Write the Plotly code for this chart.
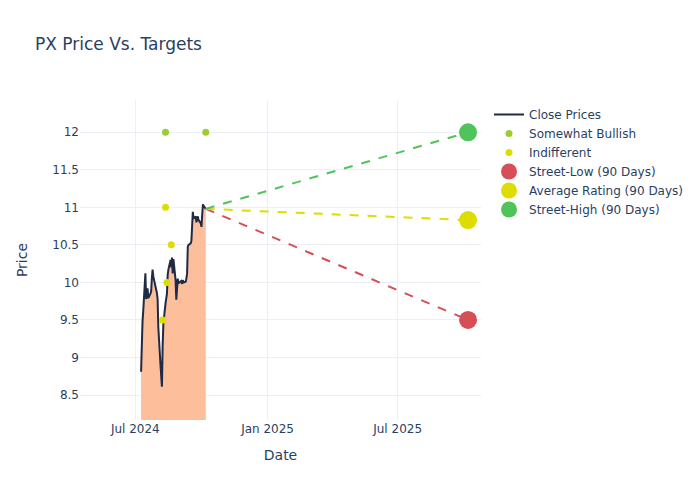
import pandas as pd
import plotly.graph_objects as go

# ---- data ----
price_dates = [
    "2024-07-09", "2024-07-10", "2024-07-11", "2024-07-12", "2024-07-15", "2024-07-16",
    "2024-07-17", "2024-07-18", "2024-07-19", "2024-07-22", "2024-07-23", "2024-07-24",
    "2024-07-25", "2024-07-26", "2024-07-29", "2024-07-30", "2024-07-31",
    "2024-08-01", "2024-08-02", "2024-08-05", "2024-08-06", "2024-08-07", "2024-08-08",
    "2024-08-09", "2024-08-12", "2024-08-13", "2024-08-14", "2024-08-15", "2024-08-16",
    "2024-08-19", "2024-08-20", "2024-08-21", "2024-08-22", "2024-08-23", "2024-08-26",
    "2024-08-27", "2024-08-28", "2024-08-29", "2024-08-30",
    "2024-09-03", "2024-09-04", "2024-09-05", "2024-09-06", "2024-09-09", "2024-09-10",
    "2024-09-11", "2024-09-12", "2024-09-13", "2024-09-16", "2024-09-17", "2024-09-18",
    "2024-09-19", "2024-09-20", "2024-09-23", "2024-09-24", "2024-09-25", "2024-09-26",
    "2024-09-27", "2024-09-30",
    "2024-10-01", "2024-10-02", "2024-10-03", "2024-10-04", "2024-10-07",
]
close_prices = [
    8.81, 9.30, 9.48, 9.62, 10.12, 9.78,
    9.80, 9.92, 9.79, 9.85, 9.88, 10.05,
    10.17, 10.08, 9.95, 9.92, 9.86,
    9.78, 9.40, 8.90, 8.75, 8.61, 9.15,
    9.45, 9.72, 9.80, 9.85, 10.10, 10.17,
    10.30, 10.20, 10.33, 10.12, 10.31, 10.03,
    9.77, 10.00, 10.05, 9.99,
    10.02, 9.98, 10.03, 10.00, 10.01, 10.05,
    10.12, 10.48, 10.50, 10.52, 10.55, 10.75,
    10.94, 10.85, 10.88, 10.80, 10.84, 10.88,
    10.83, 10.79,
    10.74, 10.90, 11.04, 11.02, 10.98,
]

bullish_dates = ["2024-08-12", "2024-10-07"]
bullish_targets = [12.0, 12.0]

indifferent_dates = ["2024-08-12", "2024-08-20", "2024-08-14", "2024-08-08"]
indifferent_targets = [11.0, 10.5, 10.0, 9.5]

target_date = "2025-10-07"
street_low = 9.5
average_rating = 10.83
street_high = 12.0

x_range = ["2024-04-15", "2025-10-25"]
y_range = [8.167, 12.43]

# ---- figure ----
fig = go.Figure()

# shaded area under the close prices (no legend entry)
fig.add_trace(go.Scatter(
    x=price_dates, y=close_prices, mode="none",
    fill="tozeroy", fillcolor="#FCBE9B", showlegend=False, hoverinfo="skip",
))
fig.add_trace(go.Scatter(
    x=price_dates, y=close_prices, mode="lines", name="Close Prices",
    line=dict(color="#1f2a44", width=2),
))

fig.add_trace(go.Scatter(
    x=bullish_dates, y=bullish_targets, mode="markers", name="Somewhat Bullish",
    marker=dict(color="#9ACD32", size=7),
))
fig.add_trace(go.Scatter(
    x=indifferent_dates, y=indifferent_targets, mode="markers", name="Indifferent",
    marker=dict(color="#DDDD00", size=7),
))

last_date = price_dates[-1]
last_close = close_prices[-1]
targets = [
    ("Street-Low (90 Days)", street_low, "#D64F56"),
    ("Average Rating (90 Days)", average_rating, "#DDDD00"),
    ("Street-High (90 Days)", street_high, "#50C35A"),
]
for name, val, col in targets:
    fig.add_trace(go.Scatter(
        x=[last_date, target_date], y=[last_close, val], mode="lines",
        line=dict(color=col, width=2, dash="dash"), showlegend=False, hoverinfo="skip",
    ))
for name, val, col in targets:
    fig.add_trace(go.Scatter(
        x=[target_date], y=[val], mode="markers", name=name,
        marker=dict(color=col, size=18),
    ))

fig.update_layout(
    template="plotly_white",
    width=700, height=500,
    font=dict(family="DejaVu Sans"),
    title=dict(text="PX Price Vs. Targets", x=0.05, xanchor="left", y=0.912, yanchor="middle"),
    xaxis=dict(title="Date", range=x_range, type="date", dtick="M6"),
    yaxis=dict(title=dict(text="Price", standoff=21), range=y_range),
)

fig.write_html("out.html", config={"displayModeBar": False},
               post_script="document.body.style.margin='0px';")
